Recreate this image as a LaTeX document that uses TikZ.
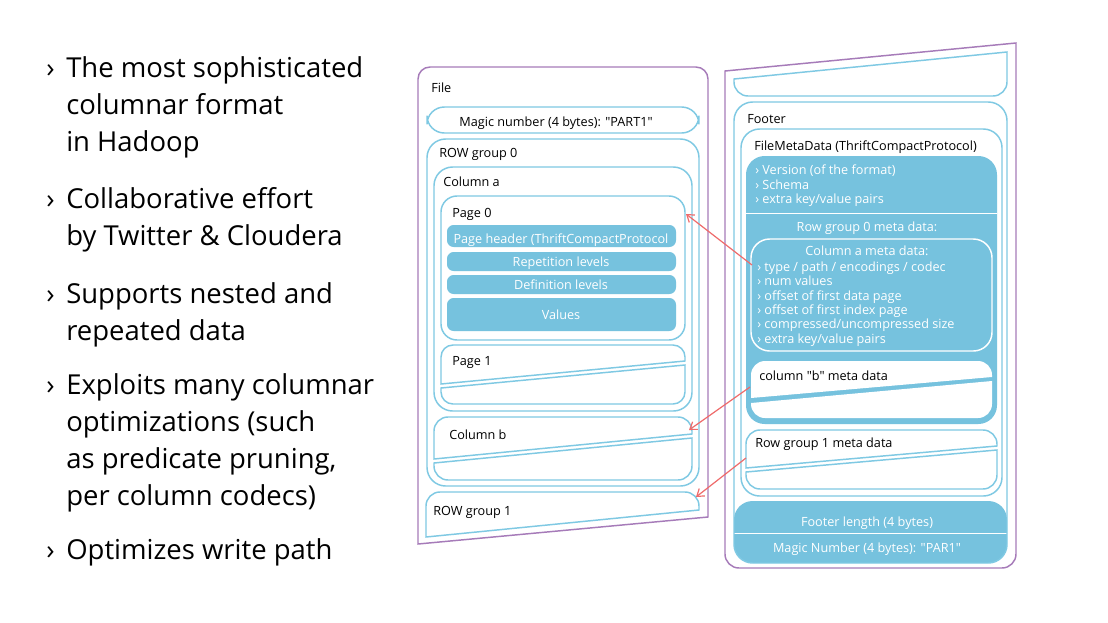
\documentclass[tikz,border=0pt]{standalone}
\usepackage{fontspec}
\setmainfont{Open Sans}[Ligatures=TeXOff]
\usetikzlibrary{arrows.meta}
\definecolor{pqblue}{HTML}{76C2DE}
\definecolor{pqedge}{HTML}{7FC9E3}
\definecolor{pqpurple}{HTML}{A67BB9}
\definecolor{pqred}{HTML}{EF6B6B}
\def\tearup[#1](#2,#3)(#4,#5)(#6,#7){\draw[#1] (#2,#6) -- (#2,{#3-#5}) arc (180:90:#5) -- ({#4-#5},#3) arc (90:0:#5) -- (#4,#7) -- cycle;}
\def\teardown[#1](#2,#3)(#4,#5)(#6,#7){\draw[#1] (#2,#6) -- (#2,{#3+#5}) arc (180:270:#5) -- ({#4-#5},#3) arc (270:360:#5) -- (#4,#7) -- cycle;}
\tikzset{
  outline/.style={draw=pqedge, line width=1.1pt},
  shell/.style={draw=pqpurple, line width=1.1pt},
  lbl/.style={anchor=base west, inner sep=0pt, font=\fontsize{9.5}{10.7}\selectfont},
  wlbl/.style={lbl, text=white},
  clbl/.style={lbl, anchor=base, text=white},
  wlist/.style={wlbl, align=left},
  point/.style={anchor=base west, inner sep=0pt, font=\fontsize{20.6}{27.75}\selectfont},
  pointtext/.style={point, align=left},
  link/.style={pqred, line width=0.9pt, -{Straight Barb[length=5pt,width=7pt]}}
}
\begin{document}
\begin{tikzpicture}[x=0.75pt,y=0.75pt]
%%%%% START %%%%%
\useasboundingbox[fill=white] (0,0) rectangle (1108,-622);

% bullet points (placed at the baseline of their last line)
\node[point] (m1) at (46,-77) {›};
\node[pointtext] (p1) at (66,-151) {The most sophisticated\\columnar format\\in Hadoop};
\node[point] (m2) at (46,-208) {›};
\node[pointtext] (p2) at (66,-245) {Collaborative effort\\by Twitter \& Cloudera};
\node[point] (m3) at (46,-303) {›};
\node[pointtext] (p3) at (66,-340) {Supports nested and\\repeated data};
\node[point] (m4) at (46,-394) {›};
\node[pointtext] (p4) at (66,-505) {Exploits many columnar\\optimizations (such\\as predicate pruning,\\per column codecs)};
\node[point] (m5) at (46,-559) {›};
\node[pointtext] (p5) at (66,-559) {Optimizes write path};

% file
\tearup[shell](418,-67)(708,12)(-544,-517)
\draw[outline, rounded corners=13] (427,-107) rectangle (699,-133);
\draw[outline, rounded corners=14] (427,-139) rectangle (699,-486);
\draw[outline, rounded corners=14] (434,-167) rectangle (692,-411);
\draw[outline, rounded corners=12] (441,-196) rectangle (685,-340);
\fill[pqblue, rounded corners=5] (447,-225) rectangle (676,-247);
\fill[pqblue, rounded corners=5] (447,-252) rectangle (676,-271);
\fill[pqblue, rounded corners=5] (447,-275) rectangle (676,-294);
\fill[pqblue, rounded corners=5] (447,-298) rectangle (676,-331);
\tearup[outline](441,-345)(685,12)(-384,-361)
\teardown[outline](441,-404)(685,12)(-388,-365)
\tearup[outline](434,-417)(692,14)(-459,-434)
\teardown[outline](434,-480)(692,14)(-463,-438)
\tearup[outline](426,-492)(699,14)(-537,-510)

\node[lbl] (file) at (431,-92) {File};
\node[lbl, anchor=base] (magic) at (556,-126) {Magic number (4 bytes): "PART1"};
\node[lbl] (rg0) at (439,-157) {ROW group 0};
\node[lbl] (cola) at (443,-186) {Column a};
\node[lbl] (pg0) at (452,-217) {Page 0};
\node[clbl] (phdr) at (561,-243) {Page header (ThriftCompactProtocol};
\node[clbl] (rep) at (561,-266) {Repetition levels};
\node[clbl] (def) at (561,-289) {Definition levels};
\node[clbl] (vals) at (561,-319) {Values};
\node[lbl] (pg1) at (452,-365) {Page 1};
\node[lbl] (colb) at (449,-439) {Column b};
\node[lbl] (rg1) at (433,-515) {ROW group 1};

% footer
\teardown[shell](725,-568)(1016,14)(-71,-43)
\teardown[outline](734,-96)(1007,14)(-79,-52)
\fill[pqblue, rounded corners=14] (734,-501) rectangle (1007,-563);
\draw[white, line width=1.1pt] (734,-533.5) -- (1007,-533.5);
\draw[outline, rounded corners=14] (734,-102) rectangle (1007,-563);
\draw[outline, rounded corners=14] (741,-129) rectangle (1002,-496);
\fill[pqblue, rounded corners=14] (746,-156) rectangle (997,-424);
\draw[white, line width=1.1pt] (746,-213.5) -- (997,-213.5);
\draw[white, line width=1.1pt, rounded corners=14] (751,-239) rectangle (992,-351);
\tearup[fill=white, draw=none](751,-361)(992,14)(-398,-377)
\teardown[fill=white, draw=none](751,-418)(992,14)(-403,-381)
\tearup[outline](746,-430)(997,14)(-468,-446)
\teardown[outline](746,-489)(997,14)(-472,-450)

\node[lbl] (foot) at (747,-123) {Footer};
\node[lbl] (fmd) at (754,-150) {FileMetaData (ThriftCompactProtocol)};
\node[wlist] (fmdlist) at (755,-203.5) {› Version (of the format)\\› Schema\\› extra key/value pairs};
\node[clbl] (rg0md) at (867,-231) {Row group 0 meta data:};
\node[clbl] (camd) at (867,-255) {Column a meta data:};
\node[wlist] (camdlist) at (757,-343) {› type / path / encodings / codec\\› num values\\› offset of first data page\\› offset of first index page\\› compressed/uncompressed size\\› extra key/value pairs};
\node[lbl] (cbmd) at (759,-380) {column "b" meta data};
\node[lbl] (rg1md) at (755,-447) {Row group 1 meta data};
\node[clbl] (flen) at (867,-526) {Footer length (4 bytes)};
\node[clbl] (fmagic) at (867,-552) {Magic Number (4 bytes): "PAR1"};

% links
\coordinate (caside) at (752,-265);
\coordinate (pg0tip) at (686,-214);
\coordinate (cbside) at (750,-387);
\coordinate (colbtip) at (689,-430);
\coordinate (rg1side) at (746,-458);
\coordinate (rg1tip) at (696,-497);
\draw[link] (caside) -- (pg0tip);
\draw[link] (cbside) -- (colbtip);
\draw[link] (rg1side) -- (rg1tip);
%%%%% END %%%%%
\end{tikzpicture}
\end{document}
